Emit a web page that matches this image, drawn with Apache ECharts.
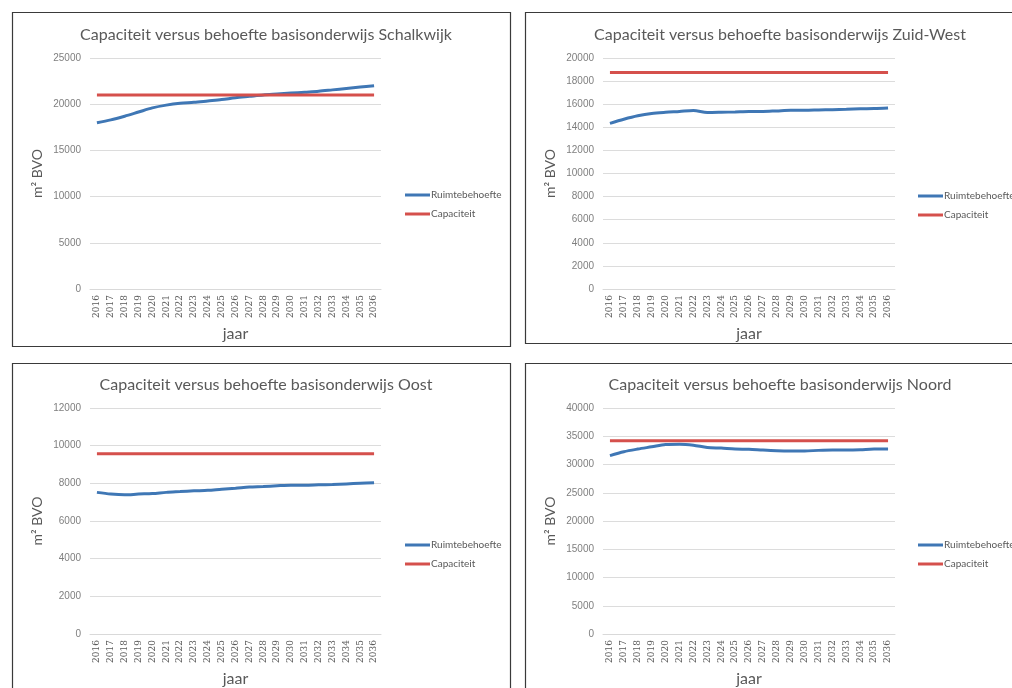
<!DOCTYPE html>
<html>
<head>
<meta charset="utf-8">
<script src="https://cdn.jsdelivr.net/npm/echarts@6/dist/echarts.min.js"></script>
<style>
html,body{margin:0;padding:0;background:#fff;}
#c{width:1012px;height:688px;}
</style>
</head>
<body>
<div id="c"></div>
<script>
const years = ['2016','2017','2018','2019','2020','2021','2022','2023','2024','2025','2026','2027','2028','2029','2030','2031','2032','2033','2034','2035','2036'];

const titles = [
  'Capaciteit versus behoefte basisonderwijs Schalkwijk',
  'Capaciteit versus behoefte basisonderwijs Zuid-West',
  'Capaciteit versus behoefte basisonderwijs Oost',
  'Capaciteit versus behoefte basisonderwijs Noord'
];

const schalkwijkNeed = [18000,18300,18700,19150,19600,19900,20100,20200,20350,20500,20700,20850,21000,21100,21200,21300,21400,21550,21700,21850,22000];
const schalkwijkCap  = [21000,21000,21000,21000,21000,21000,21000,21000,21000,21000,21000,21000,21000,21000,21000,21000,21000,21000,21000,21000,21000];

const zuidWestNeed = [14340,14700,15000,15200,15300,15370,15450,15280,15300,15330,15370,15370,15420,15470,15470,15500,15530,15560,15600,15620,15670];
const zuidWestCap  = [18750,18750,18750,18750,18750,18750,18750,18750,18750,18750,18750,18750,18750,18750,18750,18750,18750,18750,18750,18750,18750];

const oostNeed = [7520,7430,7390,7430,7460,7520,7560,7600,7630,7690,7740,7800,7830,7870,7900,7900,7920,7940,7970,8000,8030];
const oostCap  = [9570,9570,9570,9570,9570,9570,9570,9570,9570,9570,9570,9570,9570,9570,9570,9570,9570,9570,9570,9570,9570];

const noordNeed = [31570,32260,32730,33130,33540,33600,33420,33020,32900,32730,32700,32550,32440,32400,32400,32500,32550,32550,32600,32730,32730];
const noordCap  = [34200,34200,34200,34200,34200,34200,34200,34200,34200,34200,34200,34200,34200,34200,34200,34200,34200,34200,34200,34200,34200];

const yMax = [25000, 20000, 12000, 40000];
const yStep = [5000, 2000, 2000, 5000];
const needs = [schalkwijkNeed, zuidWestNeed, oostNeed, noordNeed];
const caps = [schalkwijkCap, zuidWestCap, oostCap, noordCap];

const BLUE = '#3f77b5';
const RED = '#d5504c';

const panels = [
  {bx:12,  by:12,  bw:498, bh:334, gl:90,  gt:58,  gw:291, titleX:261, titleY:23,  legX:400, legY:185},
  {bx:525, by:12,  bw:520, bh:331, gl:603, gt:58,  gw:292, titleX:775, titleY:23,  legX:913, legY:186},
  {bx:12,  by:363, bw:498, bh:360, gl:90,  gt:408, gw:291, titleX:261, titleY:373, legX:400, legY:535},
  {bx:525, by:363, bw:520, bh:360, gl:603, gt:408, gw:292, titleX:775, titleY:373, legX:913, legY:535}
];

const option = {
  backgroundColor: '#fff',
  animation: false,
  title: [], legend: [], grid: [], xAxis: [], yAxis: [], series: [],
  graphic: []
};

panels.forEach((p, i) => {
  option.graphic.push({
    type: 'rect', shape: {x: p.bx + 0.5, y: p.by + 0.5, width: p.bw, height: p.bh},
    style: {fill: 'none', stroke: '#3a3a3a', lineWidth: 1.2}, z: 100
  });
  option.title.push({
    text: titles[i], left: p.titleX, top: p.titleY - 1, textAlign: 'center',
    textStyle: {fontFamily: 'Lato', fontSize: 16, fontWeight: 'normal', color: '#595959'}
  });
  option.legend.push({
    orient: 'vertical', left: p.legX, top: p.legY, itemWidth: 25, itemHeight: 3,
    itemGap: 9, icon: 'rect',
    data: ['Ruimtebehoefte', 'Capaciteit'],
    textStyle: {fontFamily: 'Lato', fontSize: 10, color: '#595959', padding: [0,0,0,-4]}
  });
  option.grid.push({left: p.gl, top: p.gt, width: p.gw, height: 231, containLabel: false});
  option.xAxis.push({
    type: 'category', gridIndex: i, data: years, boundaryGap: true,
    name: 'jaar', nameLocation: 'middle', nameGap: 37,
    nameTextStyle: {fontFamily: 'Lato', fontSize: 16, color: '#595959'},
    axisLine: {show: true, lineStyle: {color: '#d9d9d9', width: 1}},
    axisTick: {show: false},
    axisLabel: {rotate: 90, interval: 0, margin: 6, fontFamily: 'DejaVu Serif', fontSize: 9, color: '#595959'}
  });
  option.yAxis.push({
    type: 'value', gridIndex: i, min: 0, max: yMax[i], interval: yStep[i],
    name: 'm² BVO', nameLocation: 'middle', nameGap: 46, nameRotate: 90,
    nameTextStyle: {fontFamily: 'Lato', fontSize: 14, color: '#595959'},
    axisLine: {show: false}, axisTick: {show: false},
    splitLine: {lineStyle: {color: '#dcdcdc', width: 1}},
    axisLabel: {margin: 9, fontFamily: 'Liberation Sans', fontSize: 10, color: '#7f7f7f',
      formatter: function (v) { return String(v); }}
  });
  option.series.push({
    name: 'Ruimtebehoefte', type: 'line', xAxisIndex: i, yAxisIndex: i,
    data: needs[i], smooth: 0.3, showSymbol: false, symbol: 'none',
    lineStyle: {color: BLUE, width: 3}, itemStyle: {color: BLUE}
  });
  option.series.push({
    name: 'Capaciteit', type: 'line', xAxisIndex: i, yAxisIndex: i,
    data: caps[i], showSymbol: false, symbol: 'none',
    lineStyle: {color: RED, width: 3}, itemStyle: {color: RED}
  });
});

const chart = echarts.init(document.getElementById('c'), null, {renderer: 'canvas'});
chart.setOption(option);
</script>
</body>
</html>
